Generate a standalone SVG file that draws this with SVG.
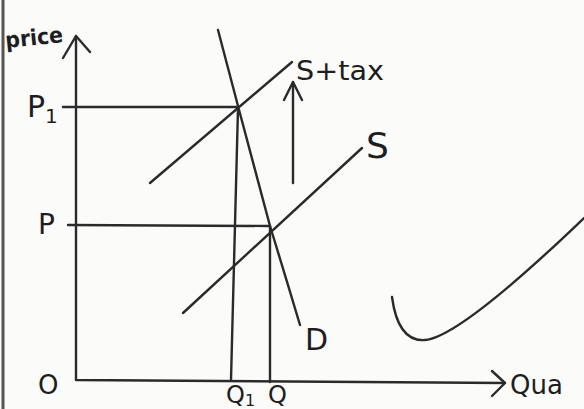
<svg xmlns="http://www.w3.org/2000/svg" width="584" height="409" viewBox="0 0 584 409">
<style>
.ln{fill:none;stroke:#2a2a2a;stroke-width:2.4;stroke-linecap:round;stroke-linejoin:round}
.tx{font-family:"DejaVu Sans","Liberation Sans",sans-serif;fill:#1e1e1e}
</style>
<rect width="584" height="409" fill="#fbfbfa"/>
<line x1="3" y1="0" x2="3" y2="409" stroke="#555" stroke-width="3"/>
<g id="axes">
<path class="ln" d="M76,36 L76,380 L505,383"/>
<path class="ln" d="M63,58 L76,36 L90,52"/>
<path class="ln" d="M492,371 L505,383 L492,396"/>
</g>
<g id="labels">
<text class="tx" x="6" y="48" font-size="22" font-weight="bold" textLength="58" lengthAdjust="spacingAndGlyphs" transform="rotate(-6 6 48)">price</text>
<text class="tx" x="27" y="117" font-size="30">P<tspan font-size="20" dy="6">1</tspan></text>
<text class="tx" x="38" y="234" font-size="28">P</text>
<text class="tx" x="38" y="394" font-size="26">O</text>
<text class="tx" x="226" y="403" font-size="24">Q<tspan font-size="16" dy="3">1</tspan></text>
<text class="tx" x="268" y="403" font-size="24">Q</text>
<text class="tx" x="510" y="394" font-size="26">Qua</text>
<text class="tx" x="296" y="80" font-size="26" textLength="88" lengthAdjust="spacingAndGlyphs">S+tax</text>
<text class="tx" x="366" y="158" font-size="36">S</text>
<text class="tx" x="305" y="350" font-size="30">D</text>
</g>
<g id="connectors">
<path class="ln" d="M63,107 L238,107"/>
<path class="ln" d="M68,225 L270,226"/>
<path class="ln" d="M238,108 L231,380"/>
<path class="ln" d="M270,226 L270,382"/>
<path class="ln" d="M218,30 Q228,68 238,106 L270,226 Q286,278 300,325"/>
<path class="ln" d="M150,183 L292,62"/>
<path class="ln" d="M183,313 L362,148"/>
<path class="ln" d="M293,183 L293,82"/>
<path class="ln" d="M284,100 L293,82 L302,100"/>
<path class="ln" d="M392,297 Q398,342 425,340 Q460,337 584,218"/>
</g>
</svg>
